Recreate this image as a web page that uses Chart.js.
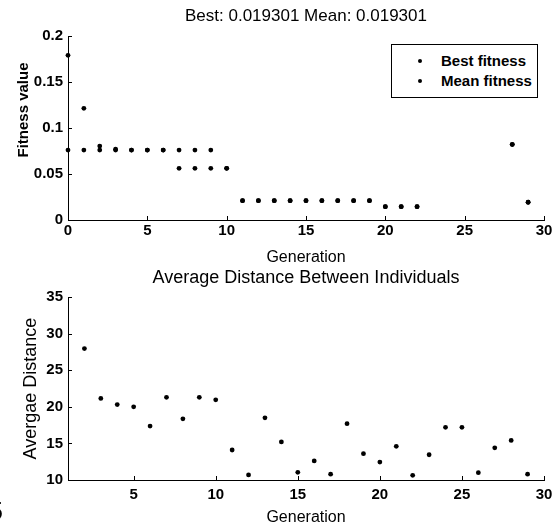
<!DOCTYPE html>
<html>
<head>
<meta charset="utf-8">
<script src="https://cdn.jsdelivr.net/npm/chart.js@4.4.0/dist/chart.umd.min.js"></script>
<style>
  body { margin: 0; background: #fff; }
  #wrap { position: relative; width: 559px; height: 529px; overflow: hidden; background: #fff; }
  #topChart { position: absolute; left: 0; top: 0; }
  #bottomChart { position: absolute; left: 0; top: 266px; }
  #legend {
    position: absolute; left: 391px; top: 44px; width: 145px; height: 52px;
    border: 1px solid #000; background: #fff;
    font: bold 15px 'Liberation Sans', Arial, sans-serif; color: #000;
  }
  #legend .item { position: absolute; left: 0; height: 20px; line-height: 20px; white-space: nowrap; }
  #legend .dot { position: absolute; left: 26px; top: 8px; width: 4px; height: 4px; border-radius: 50%; background: #000; }
  #legend .txt { position: absolute; left: 49px; top: 0; }
  #stray { position: absolute; left: -11px; top: 499px; font: 25px/25px 'Liberation Sans', Arial, sans-serif; color: #000; }
</style>
</head>
<body>
<div id="wrap">
  <canvas id="topChart" width="559" height="266"></canvas>
  <canvas id="bottomChart" width="559" height="263"></canvas>
  <div id="legend"></div>
  <div id="stray">5</div>
</div>
<script>
// Datos del gráfico de aptitud
const generations = [0, 1, 2, 3, 4, 5, 6, 7, 8, 9, 10, 11, 12, 13, 14, 15, 16, 17, 18, 19, 20, 21, 22, 23, 24, 25, 26, 27, 28, 29];
const bestFitness = [0.076, 0.076, 0.076, 0.076, 0.076, 0.076, 0.076, 0.0562, 0.0562, 0.0562, 0.0562, 0.021, 0.021, 0.021, 0.021, 0.021, 0.021, 0.021, 0.021, 0.021, 0.0145, 0.0145, 0.0145, null, null, null, null, null, 0.082, 0.0193];
const meanFitness = [0.179, 0.1214, 0.0804, 0.077, 0.076, 0.076, 0.076, 0.076, 0.076, 0.076, 0.0562, 0.021, 0.021, 0.021, 0.021, 0.021, 0.021, 0.021, 0.021, 0.021, 0.0145, 0.0145, 0.0145, null, null, null, null, null, 0.0823, 0.0193];
const fitnessXTicks = [0, 5, 10, 15, 20, 25, 30];
const fitnessYTicks = [0, 0.05, 0.1, 0.15, 0.2];

// Datos de distancia promedio
const distGenerations = [2, 3, 4, 5, 6, 7, 8, 9, 10, 11, 12, 13, 14, 15, 16, 17, 18, 19, 20, 21, 22, 23, 24, 25, 26, 27, 28, 29];
const avgDistance = [27.95, 21.14, 20.3, 20.0, 17.36, 21.3, 18.36, 21.3, 20.95, 14.1, 10.7, 18.5, 15.2, 11.05, 12.6, 10.8, 17.7, 13.6, 12.45, 14.6, 10.64, 13.45, 17.2, 17.2, 11.0, 14.4, 15.4, 10.8];
const distXTicks = [5, 10, 15, 20, 25, 30];
const distYTicks = [10, 15, 20, 25, 30, 35];

const FONT = "'Liberation Sans', Arial, sans-serif";
const NARROW = "'Liberation Sans Narrow', 'Liberation Sans', sans-serif";

function toPoints(xs, ys) {
    const pts = [];
    xs.forEach((x, i) => {
        if (ys[i] !== null) pts.push({ x: x, y: ys[i] });
    });
    return pts;
}

function fixedTicks(list) {
    return scale => { scale.ticks = list.map(v => ({ value: v })); };
}

// Marcas de escala hacia dentro (estilo MATLAB)
const insideTicks = {
    id: 'insideTicks',
    afterDraw(chart) {
        const ctx = chart.ctx;
        const { left, bottom } = chart.chartArea;
        const xs = chart.scales.x, ys = chart.scales.y;
        ctx.save();
        ctx.strokeStyle = '#000';
        ctx.lineWidth = 1;
        xs.ticks.forEach(t => {
            const px = Math.round(xs.getPixelForValue(t.value)) + 0.5;
            ctx.beginPath();
            ctx.moveTo(px, bottom);
            ctx.lineTo(px, bottom - 4);
            ctx.stroke();
        });
        ys.ticks.forEach(t => {
            const py = Math.round(ys.getPixelForValue(t.value)) + 0.5;
            ctx.beginPath();
            ctx.moveTo(left, py);
            ctx.lineTo(left + 4, py);
            ctx.stroke();
        });
        ctx.restore();
    }
};

// Etiqueta vertical libre
const sideLabel = {
    id: 'sideLabel',
    afterDraw(chart, args, opts) {
        if (!opts.text) return;
        const ctx = chart.ctx;
        ctx.save();
        ctx.translate(opts.x, opts.y);
        ctx.rotate(-Math.PI / 2);
        ctx.font = opts.font;
        ctx.fillStyle = '#000';
        ctx.textAlign = 'center';
        ctx.textBaseline = 'middle';
        ctx.fillText(opts.text, 0, 0);
        ctx.restore();
    }
};

const pointStyle = {
    showLine: false,
    pointStyle: 'circle',
    pointRadius: 2.4,
    pointBackgroundColor: '#000',
    pointBorderColor: '#000',
    pointBorderWidth: 0,
    clip: false
};

const tickFont = { family: FONT, size: 15, weight: 'bold' };

const topChart = new Chart(document.getElementById('topChart'), {
    type: 'scatter',
    data: {
        datasets: [
            Object.assign({ label: 'Best fitness', data: toPoints(generations, bestFitness) }, pointStyle),
            Object.assign({ label: 'Mean fitness', data: toPoints(generations, meanFitness) }, pointStyle)
        ]
    },
    options: {
        responsive: false,
        animation: false,
        layout: { padding: { left: 0, right: 15, top: 0, bottom: 0 } },
        plugins: {
            legend: { display: false },
            tooltip: { enabled: false },
            title: {
                display: true,
                fullSize: false,
                text: 'Best: 0.019301 Mean: 0.019301',
                color: '#000',
                font: { family: FONT, size: 17, weight: 'normal', lineHeight: 1 },
                padding: { top: 7.5, bottom: 11.5 }
            },
            sideLabel: { text: 'Fitness value', x: 24, y: 110, font: "bold 15px " + NARROW }
        },
        scales: {
            x: {
                type: 'linear', min: 0, max: 30,
                afterBuildTicks: fixedTicks(fitnessXTicks),
                afterFit: s => { s.height = 46; },
                grid: { display: false, drawTicks: false },
                border: { display: true, color: '#000', width: 1 },
                ticks: { color: '#000', font: tickFont, padding: 2, maxRotation: 0, autoSkip: false },
                title: { display: true, text: 'Generation', color: '#000', font: { family: FONT, size: 16, lineHeight: 1 }, padding: { top: 0, bottom: 0 } }
            },
            y: {
                type: 'linear', min: 0, max: 0.2,
                afterBuildTicks: fixedTicks(fitnessYTicks),
                afterFit: s => { s.width = 68; },
                grid: { display: false, drawTicks: false },
                border: { display: true, color: '#000', width: 1 },
                ticks: { color: '#000', font: tickFont, padding: 5, autoSkip: false, callback: v => String(v) }
            }
        }
    },
    plugins: [insideTicks, sideLabel]
});

const bottomChart = new Chart(document.getElementById('bottomChart'), {
    type: 'scatter',
    data: {
        datasets: [
            Object.assign({ label: 'Average distance', data: toPoints(distGenerations, avgDistance) }, pointStyle)
        ]
    },
    options: {
        responsive: false,
        animation: false,
        layout: { padding: { left: 0, right: 15, top: 0, bottom: 0 } },
        plugins: {
            legend: { display: false },
            tooltip: { enabled: false },
            title: {
                display: true,
                fullSize: false,
                text: 'Average Distance Between Individuals',
                color: '#000',
                font: { family: FONT, size: 18, weight: 'normal', lineHeight: 1 },
                padding: { top: 3, bottom: 10 }
            }
        },
        scales: {
            x: {
                type: 'linear', min: 1, max: 30,
                afterBuildTicks: fixedTicks(distXTicks),
                afterFit: s => { s.height = 49; },
                grid: { display: false, drawTicks: false },
                border: { display: true, color: '#000', width: 1 },
                ticks: { color: '#000', font: tickFont, padding: 6, maxRotation: 0, autoSkip: false },
                title: { display: true, text: 'Generation', color: '#000', font: { family: FONT, size: 16, lineHeight: 1 }, padding: { top: 0, bottom: 3 } }
            },
            y: {
                type: 'linear', min: 10, max: 35,
                afterBuildTicks: fixedTicks(distYTicks),
                afterFit: s => { s.width = 68; },
                grid: { display: false, drawTicks: false },
                border: { display: true, color: '#000', width: 1 },
                ticks: { color: '#000', font: tickFont, padding: 5, autoSkip: false },
                title: { display: true, text: 'Avergae Distance', color: '#000', font: { family: FONT, size: 18, lineHeight: 1 }, padding: { top: 22, bottom: 0 } }
            }
        }
    },
    plugins: [insideTicks]
});

// Leyenda construida a partir de los datasets
function buildLegend(chart) {
    const box = document.getElementById('legend');
    const tops = [6, 26];
    chart.data.datasets.forEach((ds, i) => {
        const item = document.createElement('div');
        item.className = 'item';
        item.style.top = tops[i] + 'px';
        item.innerHTML = '<span class="dot"></span><span class="txt"></span>';
        item.querySelector('.txt').textContent = ds.label;
        box.appendChild(item);
    });
}
buildLegend(topChart);
</script>
</body>
</html>
